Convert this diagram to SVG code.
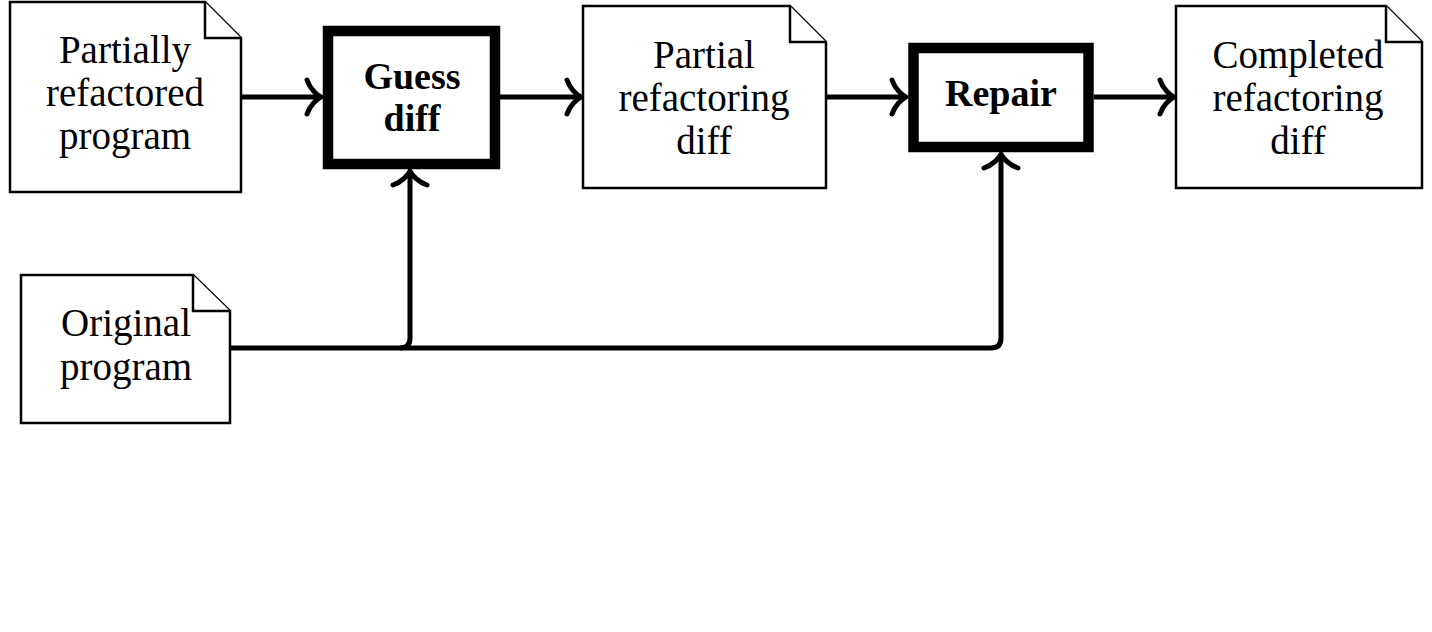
<svg xmlns="http://www.w3.org/2000/svg" width="1432" height="632" viewBox="0 0 1432 632">
<style>
.doc{fill:#fff;stroke:#000;stroke-width:2.5;stroke-linejoin:miter}
.proc{fill:#fff;stroke:#000;stroke-width:10.5}
.t{font-family:"Liberation Serif","Times New Roman",serif;font-size:39px;fill:#000;text-anchor:middle}
.b{font-family:"Liberation Serif","Times New Roman",serif;font-size:38px;font-weight:bold;fill:#000;text-anchor:middle}
.c{fill:none;stroke:#000;stroke-width:5;stroke-linejoin:round}
</style>
<defs>
<marker id="arr" markerUnits="userSpaceOnUse" markerWidth="40" markerHeight="40" viewBox="-20 -20 40 40" refX="0" refY="0" orient="auto" overflow="visible">
<path d="M-14,-17 C-11,-8 -4,-2 0,0 C-4,2 -11,8 -14,17" fill="none" stroke="#000" stroke-width="5" stroke-linecap="round" stroke-linejoin="round"/>
</marker>
</defs>
<rect width="1432" height="632" fill="#fff"/>
<g id="connectors">
<path class="c" d="M241,97 H321" marker-end="url(#arr)"/>
<path class="c" d="M500,97 H581" marker-end="url(#arr)"/>
<path class="c" d="M826,97 H906" marker-end="url(#arr)"/>
<path class="c" d="M1094,97 H1174" marker-end="url(#arr)"/>
<path class="c" d="M230,348 H400 Q410,348 410,338 V171" marker-end="url(#arr)"/>
<path class="c" d="M400,348 H991 Q1001,348 1001,338 V154" marker-end="url(#arr)"/>
</g>
<g id="partially-refactored-program">
<path class="doc" d="M10,2 H205 L241,38 V192 H10 Z"/>
<path class="doc" fill="none" d="M205,2 V38 H241"/>
<text class="t" x="125" y="63">Partially</text>
<text class="t" x="125" y="106">refactored</text>
<text class="t" x="125" y="149">program</text>
</g>
<g id="guess-diff">
<rect class="proc" x="328" y="31" width="167" height="133"/>
<text class="b" x="412" y="89">Guess</text>
<text class="b" x="412" y="131">diff</text>
</g>
<g id="partial-refactoring-diff">
<path class="doc" d="M583,6 H790 L826,42 V188 H583 Z"/>
<path class="doc" fill="none" d="M790,6 V42 H826"/>
<text class="t" x="704" y="68">Partial</text>
<text class="t" x="704" y="111">refactoring</text>
<text class="t" x="704" y="154">diff</text>
</g>
<g id="repair">
<rect class="proc" x="913.5" y="48" width="175" height="99"/>
<text class="b" x="1001" y="106">Repair</text>
</g>
<g id="completed-refactoring-diff">
<path class="doc" d="M1176,6 H1386 L1422,42 V188 H1176 Z"/>
<path class="doc" fill="none" d="M1386,6 V42 H1422"/>
<text class="t" x="1298" y="68">Completed</text>
<text class="t" x="1298" y="111">refactoring</text>
<text class="t" x="1298" y="154">diff</text>
</g>
<g id="original-program">
<path class="doc" d="M21,275 H193 L230,311 V423 H21 Z"/>
<path class="doc" fill="none" d="M193,275 V311 H230"/>
<text class="t" x="126" y="336">Original</text>
<text class="t" x="126" y="380">program</text>
</g>
</svg>
